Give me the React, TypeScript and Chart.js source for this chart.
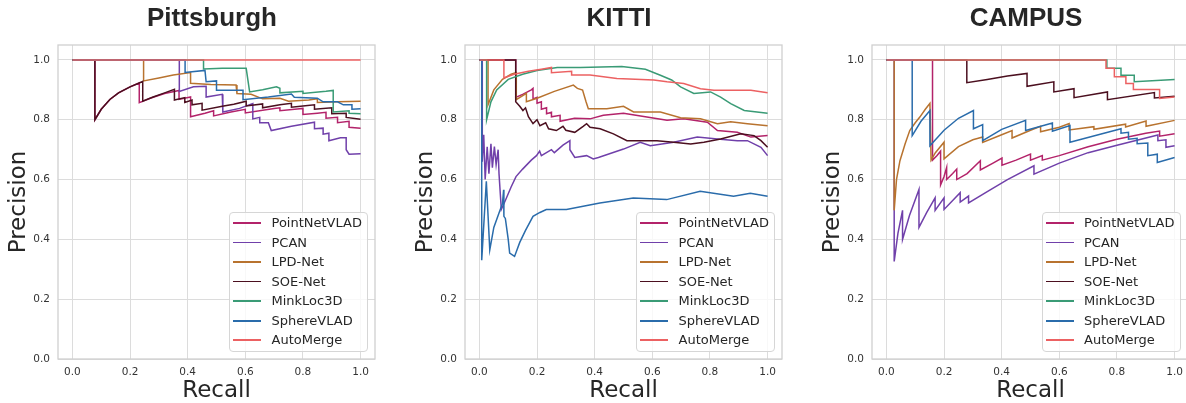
import React, { useEffect, useRef } from 'react';
import { Chart, registerables } from 'chart.js';

Chart.register(...registerables);

// ---------- labels ----------
const panelTitles = ['Pittsburgh', 'KITTI', 'CAMPUS'];
const seriesNames = ['PointNetVLAD', 'PCAN', 'LPD-Net', 'SOE-Net', 'MinkLoc3D', 'SphereVLAD', 'AutoMerge'];
const xTickValues = [0, 0.2, 0.4, 0.6, 0.8, 1.0];
const yTickValues = [0, 0.2, 0.4, 0.6, 0.8, 1.0];

// ---------- Pittsburgh [recall, precision] ----------
const pitPointNetVLAD = [[0,1],[0.078,1],[0.078,0.80],[0.10,0.835],[0.13,0.868],[0.16,0.89],[0.20,0.91],[0.232,0.923],[0.232,0.857],[0.27,0.872],[0.32,0.888],[0.37,0.898],[0.37,0.868],[0.41,0.876],[0.41,0.81],[0.46,0.822],[0.49,0.83],[0.49,0.813],[0.55,0.826],[0.60,0.835],[0.60,0.823],[0.70,0.838],[0.72,0.84],[0.72,0.83],[0.78,0.836],[0.80,0.838],[0.80,0.818],[0.85,0.822],[0.88,0.825],[0.88,0.805],[0.92,0.808],[0.92,0.79],[0.96,0.795],[0.96,0.775],[1.0,0.772]];
const pitPCAN = [[0,1],[0.371,1],[0.371,0.895],[0.42,0.91],[0.464,0.912],[0.464,0.876],[0.52,0.885],[0.522,0.826],[0.58,0.838],[0.626,0.854],[0.626,0.803],[0.65,0.808],[0.65,0.79],[0.68,0.79],[0.69,0.764],[0.76,0.778],[0.84,0.792],[0.84,0.77],[0.87,0.772],[0.87,0.752],[0.89,0.755],[0.89,0.73],[0.93,0.74],[0.95,0.74],[0.95,0.7],[0.96,0.685],[1.0,0.686]];
const pitLPDNet = [[0,1],[0.247,1],[0.247,0.93],[0.30,0.94],[0.35,0.95],[0.41,0.958],[0.41,0.922],[0.48,0.918],[0.568,0.916],[0.571,0.888],[0.62,0.885],[0.66,0.87],[0.72,0.872],[0.75,0.862],[0.82,0.866],[0.85,0.87],[0.85,0.858],[0.92,0.86],[1.0,0.862]];
const pitSOENet = [[0,1],[0.078,1],[0.078,0.80],[0.10,0.835],[0.13,0.868],[0.16,0.89],[0.20,0.91],[0.244,0.928],[0.244,0.862],[0.28,0.876],[0.32,0.89],[0.354,0.902],[0.354,0.866],[0.39,0.874],[0.39,0.858],[0.415,0.866],[0.415,0.85],[0.45,0.855],[0.45,0.832],[0.52,0.845],[0.56,0.852],[0.603,0.862],[0.603,0.846],[0.66,0.853],[0.66,0.84],[0.72,0.85],[0.76,0.855],[0.76,0.842],[0.80,0.846],[0.84,0.85],[0.84,0.835],[0.90,0.84],[0.90,0.82],[0.95,0.822],[0.95,0.808],[1.0,0.802]];
const pitMinkLoc3D = [[0,1],[0.455,1],[0.455,0.97],[0.52,0.972],[0.603,0.972],[0.615,0.893],[0.66,0.9],[0.708,0.91],[0.72,0.905],[0.72,0.89],[0.80,0.895],[0.80,0.888],[0.88,0.895],[0.905,0.898],[0.905,0.826],[0.96,0.83],[0.96,0.822],[1.0,0.82]];
const pitSphereVLAD = [[0,1],[0.391,1],[0.391,0.958],[0.46,0.965],[0.464,0.927],[0.50,0.93],[0.50,0.899],[0.592,0.899],[0.592,0.867],[0.68,0.876],[0.76,0.886],[0.77,0.875],[0.85,0.872],[0.87,0.86],[0.92,0.86],[0.94,0.85],[0.97,0.85],[0.97,0.835],[1.0,0.837]];
const pitAutoMerge = [[0,1],[1,1]];

// ---------- KITTI ----------
const ktPointNetVLAD = [[0,1],[0.126,1],[0.126,0.875],[0.15,0.885],[0.18,0.9],[0.186,0.905],[0.186,0.87],[0.2,0.875],[0.2,0.855],[0.215,0.86],[0.215,0.835],[0.233,0.84],[0.233,0.82],[0.25,0.825],[0.25,0.81],[0.28,0.815],[0.28,0.795],[0.33,0.805],[0.384,0.803],[0.43,0.815],[0.5,0.822],[0.581,0.809],[0.651,0.798],[0.709,0.803],[0.791,0.792],[0.826,0.764],[0.895,0.758],[0.942,0.742],[1.0,0.747]];
const ktPCAN = [[0,1],[0.01,1],[0.01,0.66],[0.015,0.75],[0.02,0.6],[0.027,0.71],[0.033,0.62],[0.04,0.72],[0.045,0.64],[0.052,0.71],[0.058,0.65],[0.065,0.7],[0.068,0.62],[0.076,0.5],[0.09,0.53],[0.11,0.575],[0.127,0.61],[0.15,0.635],[0.18,0.665],[0.198,0.68],[0.209,0.695],[0.215,0.68],[0.25,0.7],[0.26,0.69],[0.29,0.715],[0.314,0.73],[0.314,0.7],[0.331,0.674],[0.372,0.68],[0.395,0.669],[0.413,0.674],[0.5,0.702],[0.558,0.725],[0.593,0.713],[0.674,0.725],[0.756,0.742],[0.826,0.736],[0.895,0.73],[0.93,0.73],[0.977,0.708],[1.0,0.68]];
const ktLPDNet = [[0,1],[0.03,1],[0.03,0.85],[0.05,0.9],[0.08,0.935],[0.11,0.952],[0.128,0.958],[0.128,0.867],[0.163,0.888],[0.163,0.86],[0.2,0.872],[0.26,0.895],[0.326,0.916],[0.34,0.905],[0.358,0.899],[0.37,0.86],[0.378,0.837],[0.442,0.837],[0.5,0.845],[0.535,0.826],[0.628,0.826],[0.698,0.807],[0.767,0.803],[0.826,0.787],[0.872,0.793],[0.93,0.787],[1.0,0.78]];
const ktSOENet = [[0,1],[0.126,1],[0.126,0.86],[0.14,0.845],[0.151,0.831],[0.16,0.84],[0.17,0.81],[0.186,0.787],[0.2,0.8],[0.21,0.78],[0.23,0.79],[0.24,0.77],[0.267,0.764],[0.29,0.778],[0.3,0.765],[0.331,0.758],[0.36,0.778],[0.372,0.787],[0.384,0.775],[0.419,0.77],[0.465,0.753],[0.512,0.73],[0.616,0.73],[0.674,0.725],[0.733,0.719],[0.779,0.725],[0.837,0.736],[0.907,0.753],[0.953,0.747],[0.977,0.73],[1.0,0.708]];
const ktMinkLoc3D = [[0,1],[0.025,1],[0.025,0.80],[0.04,0.86],[0.06,0.9],[0.1,0.935],[0.15,0.952],[0.2,0.965],[0.27,0.975],[0.35,0.975],[0.494,0.978],[0.576,0.969],[0.628,0.949],[0.667,0.933],[0.698,0.91],[0.744,0.888],[0.802,0.893],[0.837,0.876],[0.872,0.854],[0.919,0.831],[1.0,0.822]];
const ktSphereVLAD = [[0,1],[0.008,1],[0.008,0.33],[0.024,0.594],[0.036,0.365],[0.05,0.44],[0.068,0.488],[0.08,0.52],[0.084,0.566],[0.085,0.477],[0.09,0.47],[0.1,0.4],[0.105,0.354],[0.122,0.343],[0.14,0.39],[0.16,0.43],[0.186,0.477],[0.21,0.49],[0.232,0.5],[0.302,0.5],[0.36,0.511],[0.418,0.522],[0.534,0.538],[0.65,0.533],[0.766,0.561],[0.882,0.544],[0.94,0.554],[1.0,0.544]];
const ktAutoMerge = [[0,1],[0.085,1],[0.085,0.94],[0.12,0.952],[0.17,0.962],[0.22,0.97],[0.25,0.975],[0.25,0.957],[0.32,0.962],[0.32,0.95],[0.384,0.95],[0.477,0.938],[0.605,0.933],[0.651,0.927],[0.709,0.921],[0.767,0.904],[0.814,0.899],[0.942,0.899],[1.0,0.89]];

// ---------- CAMPUS ----------
const cpPointNetVLAD = [[0,1],[0.16,1],[0.16,0.665],[0.175,0.68],[0.188,0.695],[0.188,0.582],[0.2,0.61],[0.209,0.64],[0.209,0.6],[0.23,0.62],[0.244,0.635],[0.244,0.6],[0.28,0.62],[0.326,0.663],[0.326,0.632],[0.37,0.655],[0.401,0.672],[0.401,0.648],[0.45,0.665],[0.5,0.685],[0.5,0.665],[0.541,0.68],[0.541,0.665],[0.6,0.68],[0.7,0.71],[0.8,0.735],[0.9,0.755],[0.948,0.762],[0.948,0.745],[1.0,0.753]];
const cpPCAN = [[0,1],[0.027,1],[0.027,0.326],[0.04,0.42],[0.056,0.497],[0.056,0.4],[0.08,0.48],[0.113,0.567],[0.113,0.44],[0.14,0.49],[0.169,0.539],[0.169,0.497],[0.2,0.539],[0.2,0.5],[0.23,0.53],[0.256,0.556],[0.256,0.525],[0.285,0.545],[0.285,0.522],[0.35,0.56],[0.42,0.6],[0.512,0.646],[0.512,0.618],[0.6,0.655],[0.7,0.69],[0.8,0.715],[0.942,0.749],[0.942,0.73],[0.97,0.733],[0.97,0.708],[1.0,0.713]];
const cpLPDNet = [[0,1],[0.027,1],[0.027,0.497],[0.035,0.6],[0.047,0.663],[0.065,0.72],[0.081,0.764],[0.1,0.79],[0.116,0.809],[0.135,0.835],[0.151,0.855],[0.155,0.665],[0.17,0.69],[0.2,0.725],[0.2,0.669],[0.25,0.71],[0.3,0.733],[0.334,0.742],[0.334,0.724],[0.4,0.75],[0.436,0.764],[0.436,0.739],[0.5,0.765],[0.535,0.778],[0.535,0.76],[0.6,0.775],[0.634,0.787],[0.634,0.766],[0.72,0.777],[0.72,0.768],[0.83,0.785],[0.83,0.776],[0.901,0.796],[0.901,0.778],[1.0,0.798]];
const cpSOENet = [[0,1],[0.279,1],[0.279,0.924],[0.35,0.935],[0.42,0.946],[0.488,0.955],[0.488,0.912],[0.581,0.927],[0.581,0.893],[0.651,0.904],[0.651,0.874],[0.767,0.893],[0.767,0.867],[0.93,0.891],[0.93,0.873],[1.0,0.879]];
const cpMinkLoc3D = [[0,1],[0.765,1],[0.765,0.972],[0.814,0.972],[0.814,0.949],[0.86,0.949],[0.86,0.927],[1.0,0.935]];
const cpSphereVLAD = [[0,1],[0.0895,1],[0.0895,0.747],[0.12,0.795],[0.151,0.831],[0.151,0.713],[0.2,0.765],[0.25,0.805],[0.302,0.831],[0.302,0.77],[0.334,0.784],[0.334,0.73],[0.4,0.768],[0.483,0.798],[0.483,0.764],[0.576,0.789],[0.576,0.762],[0.637,0.781],[0.637,0.725],[0.814,0.77],[0.814,0.755],[0.84,0.758],[0.84,0.735],[0.87,0.738],[0.87,0.72],[0.907,0.722],[0.907,0.68],[0.94,0.685],[0.94,0.657],[1.0,0.674]];
const cpAutoMerge = [[0,1],[0.762,1],[0.762,0.972],[0.791,0.972],[0.791,0.944],[0.831,0.944],[0.831,0.921],[0.857,0.921],[0.857,0.901],[0.948,0.901],[0.948,0.871],[1.0,0.876]];

const pittsburghSeries = [pitPointNetVLAD, pitPCAN, pitLPDNet, pitSOENet, pitMinkLoc3D, pitSphereVLAD, pitAutoMerge];
const kittiSeries = [ktPointNetVLAD, ktPCAN, ktLPDNet, ktSOENet, ktMinkLoc3D, ktSphereVLAD, ktAutoMerge];
const campusSeries = [cpPointNetVLAD, cpPCAN, cpLPDNet, cpSOENet, cpMinkLoc3D, cpSphereVLAD, cpAutoMerge];
const allSeries = [pittsburghSeries, kittiSeries, campusSeries];

// ---------- styles ----------
const seriesColors = ['#b3236a', '#7040aa', '#b8732f', '#4b0f1f', '#3a9b76', '#2a6cab', '#ec6162'];
const TEXT = '#262626';
const GRID = '#dcdcdc';
const FRAME = '#d0d0d0';
const CANVAS_W = 424;
const CANVAS_H = 403;
const PANEL_OFFSETS = [0, 407, 814];
const LEGEND_LEFTS = [229, 636, 1041.5];

const framePlugin = {
  id: 'frame',
  afterDraw(chart: any) {
    const { ctx, chartArea } = chart;
    ctx.save();
    ctx.strokeStyle = FRAME;
    ctx.lineWidth = 1.3;
    ctx.strokeRect(chartArea.left, chartArea.top, chartArea.right - chartArea.left, chartArea.bottom - chartArea.top);
    ctx.restore();
  },
};

function Panel({ idx }: { idx: number }) {
  const ref = useRef<HTMLCanvasElement>(null);
  useEffect(() => {
    const series = allSeries[idx];
    const chart = new Chart(ref.current as HTMLCanvasElement, {
      type: 'line',
      data: {
        datasets: series.map((pts, i) => ({
          label: seriesNames[i],
          data: pts.map(([x, y]) => ({ x, y })),
          borderColor: seriesColors[i],
          backgroundColor: seriesColors[i],
          borderWidth: 1.5,
          pointRadius: 0,
          pointHoverRadius: 0,
          tension: 0,
          fill: false,
          yAxisID: 'y',
          order: seriesNames.length - 1 - i,
        })),
      },
      options: {
        responsive: false,
        animation: false,
        events: [],
        layout: { padding: { left: 0, right: 0, top: 0, bottom: 0 } },
        plugins: {
          legend: { display: false },
          tooltip: { enabled: false },
          title: {
            display: true,
            text: panelTitles[idx],
            color: TEXT,
            font: { family: "'Liberation Sans', Arial, sans-serif", size: 26, weight: 'bold' },
            padding: { top: 3.7, bottom: 10.1 },
          },
        },
        scales: {
          x: {
            type: 'linear',
            min: -0.05,
            max: 1.05,
            afterBuildTicks: (axis: any) => { axis.ticks = xTickValues.map((v) => ({ value: v })); },
            afterFit: (scale: any) => { scale.height = 44; },
            ticks: {
              color: '#333333',
              font: { family: "'DejaVu Sans', sans-serif", size: 10.5 },
              padding: 7,
              maxRotation: 0,
              autoSkip: false,
              callback: (v: any) => Number(v).toFixed(1),
            },
            grid: { color: GRID, lineWidth: 1, drawTicks: false },
            border: { display: false },
            title: {
              display: true,
              text: 'Recall',
              color: TEXT,
              font: { family: "'DejaVu Sans', sans-serif", size: 23, lineHeight: 1 },
              padding: { top: 0, bottom: 0.6 },
            },
          },
          y: {
            type: 'linear',
            position: 'left',
            min: 0,
            max: 1.05,
            afterBuildTicks: (axis: any) => { axis.ticks = yTickValues.map((v) => ({ value: v })); },
            afterFit: (scale: any) => { scale.width = 58; },
            ticks: {
              color: '#333333',
              font: { family: "'DejaVu Sans', sans-serif", size: 10.5 },
              padding: 8,
              autoSkip: false,
              callback: (v: any) => Number(v).toFixed(1),
            },
            grid: { color: GRID, lineWidth: 1, drawTicks: false },
            border: { display: false },
            title: {
              display: true,
              text: 'Precision',
              color: TEXT,
              font: { family: "'DejaVu Sans', sans-serif", size: 23, lineHeight: 1 },
              padding: { top: 7.9, bottom: 0 },
            },
          },
          spacer: {
            type: 'linear',
            position: 'right',
            min: 0,
            max: 1,
            display: true,
            afterFit: (scale: any) => { scale.width = 49; },
            ticks: { display: false },
            grid: { display: false, drawOnChartArea: false },
            border: { display: false },
            title: { display: false },
          },
        },
      } as any,
      plugins: [framePlugin],
    });
    return () => chart.destroy();
  }, [idx]);
  return (
    <canvas
      ref={ref}
      width={CANVAS_W}
      height={CANVAS_H}
      style={{ position: 'absolute', left: PANEL_OFFSETS[idx], top: 0, width: CANVAS_W, height: CANVAS_H }}
    />
  );
}

function Legend({ left }: { left: number }) {
  return (
    <div
      style={{
        position: 'absolute',
        left,
        top: 212,
        width: 139,
        height: 140,
        boxSizing: 'border-box',
        background: 'rgba(255,255,255,0.8)',
        border: '1px solid #d6d6d6',
        borderRadius: 4,
        fontFamily: "'DejaVu Sans', sans-serif",
        fontSize: 13,
        color: TEXT,
      }}
    >
      {seriesNames.map((name, i) => (
        <div key={name} style={{ position: 'absolute', left: 0, top: i * 19.55, height: 19.5, width: '100%' }}>
          <div style={{ position: 'absolute', left: 3, top: 9, width: 28, height: 1.8, background: seriesColors[i] }} />
          <div style={{ position: 'absolute', left: 41.5, top: 0, height: 19.5, lineHeight: '19.5px', whiteSpace: 'nowrap' }}>{name}</div>
        </div>
      ))}
    </div>
  );
}

export default function App() {
  return (
    <div style={{ position: 'fixed', left: 0, top: 0, width: 1186, height: 403, overflow: 'hidden', background: '#ffffff' }}>
      {[0, 1, 2].map((i) => (
        <Panel key={i} idx={i} />
      ))}
      {LEGEND_LEFTS.map((l, i) => (
        <Legend key={i} left={l} />
      ))}
    </div>
  );
}
